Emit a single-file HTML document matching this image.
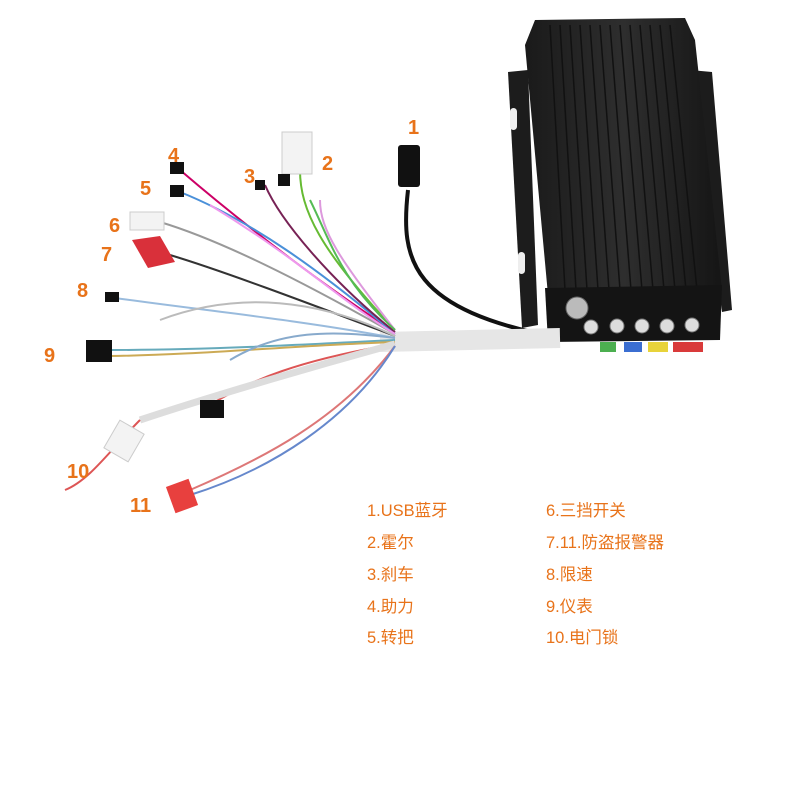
<!DOCTYPE html>
<html><head><meta charset="utf-8"><style>
body{margin:0;background:#fff;width:800px;height:800px;overflow:hidden;position:relative;font-family:"Liberation Sans","Noto Sans CJK SC",sans-serif}
.n{position:absolute;color:#e8731a;font-size:20px;font-weight:bold}
.l{position:absolute;color:#e8731a;font-size:16.5px}
</style></head><body>
<svg width="800" height="800" style="position:absolute;left:0;top:0">
<defs>
<linearGradient id="g" x1="0" x2="1"><stop offset="0" stop-color="#1a1a1a"/><stop offset=".5" stop-color="#2e2e2e"/><stop offset="1" stop-color="#151515"/></linearGradient>
</defs>
<polygon points="508,72 528,70 538,325 522,328" fill="#1c1c1c"/>
<polygon points="690,70 712,72 732,310 722,312" fill="#1c1c1c"/>
<rect x="510" y="108" width="7" height="22" rx="3.5" fill="#eee"/>
<rect x="518" y="252" width="7" height="22" rx="3.5" fill="#eee"/>
<polygon points="535,20 685,18 695,40 722,290 548,295 525,45" fill="url(#g)"/>
<g stroke="#111" stroke-width="1.5">
<line x1="550" y1="25" x2="565" y2="290"/><line x1="560" y1="25" x2="576" y2="290"/><line x1="570" y1="25" x2="587" y2="290"/><line x1="580" y1="25" x2="598" y2="290"/><line x1="590" y1="25" x2="609" y2="290"/><line x1="600" y1="25" x2="620" y2="290"/><line x1="610" y1="25" x2="631" y2="290"/><line x1="620" y1="25" x2="642" y2="290"/><line x1="630" y1="25" x2="653" y2="290"/><line x1="640" y1="25" x2="664" y2="290"/><line x1="650" y1="25" x2="675" y2="290"/><line x1="660" y1="25" x2="686" y2="290"/><line x1="670" y1="25" x2="697" y2="290"/>
</g>
<polygon points="545,288 722,285 720,340 548,342" fill="#141414"/>
<g fill="#ddd" stroke="#777"><circle cx="591" cy="327" r="7"/><circle cx="617" cy="326" r="7"/><circle cx="642" cy="326" r="7"/><circle cx="667" cy="326" r="7"/><circle cx="692" cy="325" r="7"/></g>
<circle cx="577" cy="308" r="11" fill="#bbb" stroke="#666"/>
<rect x="600" y="342" width="16" height="10" fill="#4caf50"/>
<rect x="624" y="342" width="18" height="10" fill="#3b6ed1"/>
<rect x="648" y="342" width="20" height="10" fill="#e8d33a"/>
<rect x="673" y="342" width="30" height="10" fill="#d93a3a"/>
<path d="M408,190 C400,260 410,310 560,338" stroke="#111" stroke-width="4" fill="none"/>
<rect x="398" y="145" width="22" height="42" rx="3" fill="#111"/>
<path d="M380,342 L560,338" stroke="#e6e6e6" stroke-width="20" fill="none"/>
<g fill="none" stroke-width="2">
<path d="M395,332 C330,290 250,230 180,170" stroke="#c06"/>
<path d="M395,334 C320,270 250,220 180,192" stroke="#4a90d9"/>
<path d="M395,330 C320,250 300,210 300,170" stroke="#6b3"/>
<path d="M395,332 C330,280 280,220 265,185" stroke="#725"/>
<path d="M395,334 C300,280 220,240 160,222" stroke="#999"/>
<path d="M395,336 C300,300 220,270 170,255" stroke="#333"/>
<path d="M395,338 C300,320 200,310 115,298" stroke="#9bd"/>
<path d="M395,340 C300,345 200,350 110,350" stroke="#6ab"/>
<path d="M395,342 C300,345 200,355 110,356" stroke="#ca5"/>
<path d="M395,344 C300,360 250,380 210,405" stroke="#d55"/>
<path d="M395,344 C300,370 200,400 140,420" stroke="#ddd" stroke-width="7"/>
<path d="M140,420 C110,450 90,480 65,490" stroke="#d55"/>
<path d="M395,346 C340,420 260,460 190,490" stroke="#d77"/>
<path d="M395,346 C350,420 270,470 190,495" stroke="#68c"/>
<path d="M395,330 C340,260 320,230 320,200" stroke="#d9d"/>
<path d="M395,330 C340,280 330,240 310,200" stroke="#5b5"/>
<path d="M395,336 C320,300 240,290 160,320" stroke="#bbb"/>
<path d="M395,338 C330,330 280,330 230,360" stroke="#8ac"/>
<path d="M395,334 C340,300 300,260 210,205" stroke="#e9e"/>
</g>
<rect x="282" y="132" width="30" height="42" fill="#f3f3f3" stroke="#ccc"/>
<rect x="170" y="162" width="14" height="12" fill="#111"/>
<rect x="170" y="185" width="14" height="12" fill="#111"/>
<rect x="255" y="180" width="10" height="10" fill="#111"/>
<rect x="278" y="174" width="12" height="12" fill="#111"/>
<rect x="130" y="212" width="34" height="18" fill="#f3f3f3" stroke="#ccc"/>
<polygon points="132,240 160,236 175,262 148,268" fill="#d9303a"/>
<rect x="105" y="292" width="14" height="10" fill="#111"/>
<rect x="86" y="340" width="26" height="22" fill="#111"/>
<rect x="200" y="400" width="24" height="18" fill="#111"/>
<rect x="110" y="425" width="28" height="32" fill="#f3f3f3" stroke="#ccc" transform="rotate(30 124 441)"/>
<rect x="170" y="482" width="24" height="28" fill="#e8403e" transform="rotate(-20 182 496)"/>
</svg>
<div class="n" style="left:408px;top:117px">1</div>
<div class="n" style="left:322px;top:153px">2</div>
<div class="n" style="left:244px;top:166px">3</div>
<div class="n" style="left:168px;top:145px">4</div>
<div class="n" style="left:140px;top:178px">5</div>
<div class="n" style="left:109px;top:215px">6</div>
<div class="n" style="left:101px;top:244px">7</div>
<div class="n" style="left:77px;top:280px">8</div>
<div class="n" style="left:44px;top:345px">9</div>
<div class="n" style="left:67px;top:461px">10</div>
<div class="n" style="left:130px;top:495px">11</div>
<div class="l" style="left:367px;top:497px">1.USB蓝牙</div>
<div class="l" style="left:367px;top:529px">2.霍尔</div>
<div class="l" style="left:367px;top:561px">3.刹车</div>
<div class="l" style="left:367px;top:593px">4.助力</div>
<div class="l" style="left:367px;top:624px">5.转把</div>
<div class="l" style="left:546px;top:497px">6.三挡开关</div>
<div class="l" style="left:546px;top:529px">7.11.防盗报警器</div>
<div class="l" style="left:546px;top:561px">8.限速</div>
<div class="l" style="left:546px;top:593px">9.仪表</div>
<div class="l" style="left:546px;top:624px">10.电门锁</div>
</body></html>
